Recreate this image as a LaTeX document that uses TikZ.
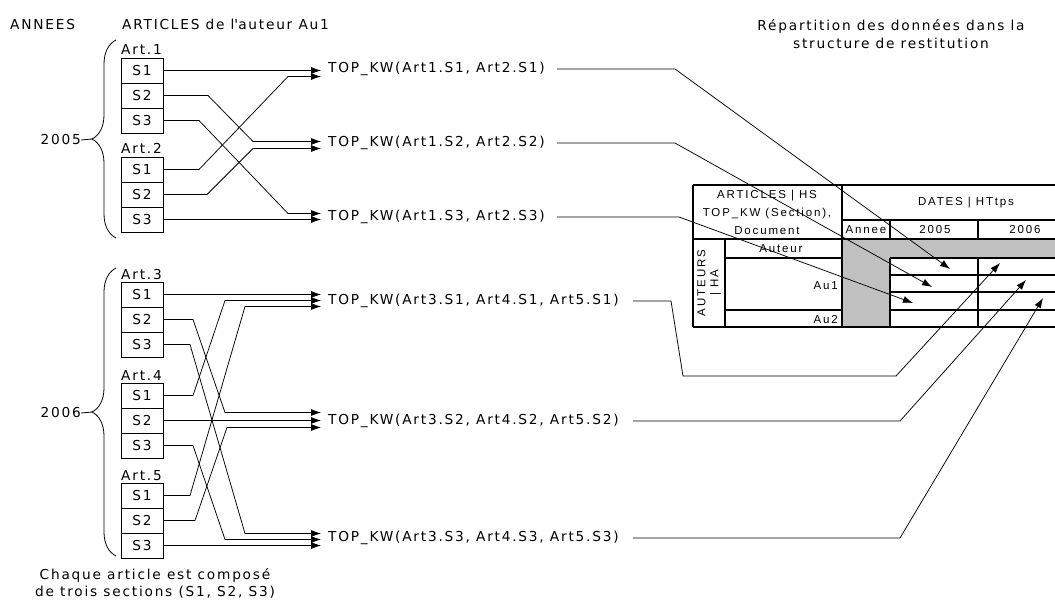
\documentclass[tikz,border=0pt]{standalone}
\usepackage{fontspec}
\usetikzlibrary{arrows.meta,decorations.pathreplacing,calc}
\newfontfamily\mainf[LetterSpace=13]{DejaVu Sans}
\newfontfamily\tabf[LetterSpace=16]{Liberation Sans}
\definecolor{tabgray}{RGB}{192,192,192}
\begin{document}
\begin{tikzpicture}[x=1pt,y=-1pt,
  txt/.style={font=\mainf\fontsize{13.7}{17}\selectfont, inner sep=0pt},
  ttxt/.style={font=\tabf\fontsize{11.5}{18}\selectfont, inner sep=0pt},
  sec/.style={draw, line width=0.9pt, minimum width=42pt, minimum height=25pt, inner sep=0pt, txt},
  conn/.style={line width=0.75pt},
  arr/.style={conn, -{Latex[length=10pt,width=7pt]}},
  tline/.style={line width=2.5pt},
  brc/.style={line width=0.8pt, decorate, decoration={brace, amplitude=24pt}},
]
\useasboundingbox (0,0) rectangle (1055,606);
\fill[white] (0,0) rectangle (1055,606);

% headers
\node[txt, anchor=base west] (annees) at (10,29.5) {ANNEES};
\node[txt, anchor=base west] (artaut) at (122,29.5) {ARTICLES de l\textquotesingle auteur Au1};
\node[txt, align=center, font=\mainf\fontsize{13.7}{18}\selectfont] (rep) at (891,34) {Répartition des données dans la\\structure de restitution};

% article boxes
\node[txt, anchor=base west] (art1) at (121,54) {Art.1};
\node[sec] (a1s1) at (142,70.5) {S1};
\node[sec] (a1s2) at (142,95.5) {S2};
\node[sec] (a1s3) at (142,120.5) {S3};
\node[txt, anchor=base west] (art2) at (121,153) {Art.2};
\node[sec] (a2s1) at (142,169.5) {S1};
\node[sec] (a2s2) at (142,194.5) {S2};
\node[sec] (a2s3) at (142,219.5) {S3};

\node[txt, anchor=base west] (art3) at (121,279) {Art.3};
\node[sec] (a3s1) at (142,294.5) {S1};
\node[sec] (a3s2) at (142,319.5) {S2};
\node[sec] (a3s3) at (142,344.5) {S3};
\node[txt, anchor=base west] (art4) at (121,380) {Art.4};
\node[sec] (a4s1) at (142,395.5) {S1};
\node[sec] (a4s2) at (142,420.5) {S2};
\node[sec] (a4s3) at (142,445.5) {S3};
\node[txt, anchor=base west] (art5) at (121,480) {Art.5};
\node[sec] (a5s1) at (142,495.5) {S1};
\node[sec] (a5s2) at (142,520.5) {S2};
\node[sec] (a5s3) at (142,545.5) {S3};

% years and braces
\node[txt, anchor=east] (y2005) at (81,140) {2005};
\node[txt, anchor=east] (y2006) at (81,413) {2006};
\draw[brc] (116,238) -- (116,40);
\draw[brc] (116,556) -- (116,268);
\coordinate (tip5) at (92,139);
\coordinate (tip6) at (92,412);
\draw[line width=0.8pt] (y2005.east) -- (tip5);
\draw[line width=0.8pt] (y2006.east) -- (tip6);

\node[txt, align=center] (note) at (155,583) {Chaque article est composé\\de trois sections (S1, S2, S3)};

% keyword labels
\node[txt, anchor=west] (kw1) at (328,69) {TOP\_KW(Art1.S1, Art2.S1)};
\node[txt, anchor=west] (kw2) at (328,143) {TOP\_KW(Art1.S2, Art2.S2)};
\node[txt, anchor=west] (kw3) at (328,217) {TOP\_KW(Art1.S3, Art2.S3)};
\node[txt, anchor=west] (kw4) at (328,301) {TOP\_KW(Art3.S1, Art4.S1, Art5.S1)};
\node[txt, anchor=west] (kw5) at (328,421) {TOP\_KW(Art3.S2, Art4.S2, Art5.S2)};
\node[txt, anchor=west] (kw6) at (328,538) {TOP\_KW(Art3.S3, Art4.S3, Art5.S3)};

% arrow targets at labels
\coordinate (t11) at (321,70.5);
\coordinate (t12) at (321,76.5);
\coordinate (t21) at (321,141.5);
\coordinate (t22) at (321,148.5);
\coordinate (t31) at (321,213.5);
\coordinate (t32) at (321,219.5);
\coordinate (t41) at (321,294.5);
\coordinate (t42) at (321,300.5);
\coordinate (t43) at (321,306.5);
\coordinate (t51) at (321,412.5);
\coordinate (t52) at (321,420.5);
\coordinate (t53) at (321,427.5);
\coordinate (t61) at (321,533.5);
\coordinate (t62) at (321,539.5);
\coordinate (t63) at (321,545.5);

% 2005 connectors
\draw[arr] (a1s1.east) -- (t11);
\draw[arr] (a2s1.east) -- (199,169.5) -- (288,76.5) -- (t12);
\draw[arr] (a1s2.east) -- (208,95.5) -- (253,141.5) -- (t21);
\draw[arr] (a2s2.east) -- (207,194.5) -- (253,148.5) -- (t22);
\draw[arr] (a1s3.east) -- (199,120.5) -- (288,213.5) -- (t31);
\draw[arr] (a2s3.east) -- (t32);

% 2006 connectors
\draw[arr] (a3s1.east) -- (t41);
\draw[arr] (a4s1.east) -- (193,395.5) -- (225,300.5) -- (t42);
\draw[arr] (a5s1.east) -- (190,495.5) -- (245,306.5) -- (t43);
\draw[arr] (a3s2.east) -- (193,319.5) -- (225,412.5) -- (t51);
\draw[arr] (a4s2.east) -- (t52);
\draw[arr] (a5s2.east) -- (195,520.5) -- (227,427.5) -- (t53);
\draw[arr] (a3s3.east) -- (190,344.5) -- (245,533.5) -- (t61);
\draw[arr] (a4s3.east) -- (193,445.5) -- (225,539.5) -- (t62);
\draw[arr] (a5s3.east) -- (t63);

% restitution table
\fill[tabgray] (842,239) rectangle (890,327);
\fill[tabgray] (890,239) rectangle (1060,258);
\draw[tline] (693,185) -- (1060,185);
\draw[tline] (693,327) -- (1060,327);
\draw[tline] (693,185) -- (693,327);
\draw[tline] (842,185) -- (842,327);
\draw[tline] (693,239) -- (1060,239);
\draw[tline] (842,220) -- (1060,220);
\draw[tline] (890,220) -- (890,239);
\draw[tline] (978,220) -- (978,239);
\draw[tline] (725,239) -- (725,327);
\draw[tline] (725,258) -- (842,258);
\draw[tline] (725,310) -- (842,310);
\draw[tline] (890,258) -- (1060,258);
\draw[tline] (890,258) -- (890,327);
\draw[tline] (978,258) -- (978,327);
\draw[tline] (890,275) -- (1060,275);
\draw[tline] (890,292) -- (1060,292);
\draw[tline] (890,310) -- (1060,310);

\node[ttxt, align=center] (hart) at (767,212) {ARTICLES | HS\\TOP\_KW (Section),\\Document};
\node[ttxt] (hdates) at (966,203) {DATES | HTtps};
\node[ttxt] (hannee) at (866,230) {Annee};
\node[ttxt] (h2005) at (935,230) {2005};
\node[ttxt] (h2006) at (1025,230) {2006};
\node[ttxt] (hauteur) at (781,249) {Auteur};
\node[ttxt, anchor=east] (hau1) at (838,286) {Au1};
\node[ttxt, anchor=east] (hau2) at (838,319.5) {Au2};
\node[ttxt, align=center, rotate=90, font=\tabf\fontsize{11.5}{13}\selectfont] (hauteurs) at (709,283) {AUTEURS\\| HA};

% targets in table
\coordinate (d1) at (950,269);
\coordinate (d2) at (932,287);
\coordinate (d3) at (913,303);
\coordinate (d4) at (1000,263);
\coordinate (d5) at (1026,280);
\coordinate (d6) at (1043,298);

\draw[arr] ([xshift=12pt]kw1.east) -- (675,69) -- (d1);
\draw[arr] ([xshift=12pt]kw2.east) -- (675,143) -- (d2);
\draw[arr] ([xshift=12pt]kw3.east) -- (679,217) -- (d3);
\draw[arr] ([xshift=14pt]kw4.east) -- (671,301) -- (683,376) -- (896,376) -- (d4);
\draw[arr] ([xshift=14pt]kw5.east) -- (900,421) -- (d5);
\draw[arr] ([xshift=14pt]kw6.east) -- (900,538) -- (d6);
\end{tikzpicture}
\end{document}
